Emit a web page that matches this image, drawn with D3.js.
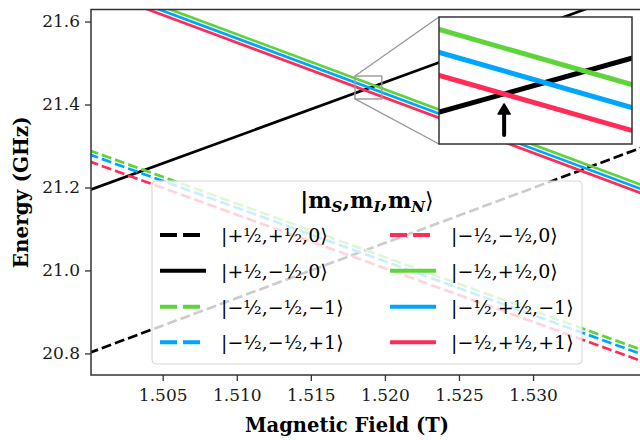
<!DOCTYPE html>
<meta charset="utf-8">
<title>Energy levels vs magnetic field</title>
<style>
*{
  margin: 0;
  padding: 0;
}
body{
  background: #fff;
  font-family: "DejaVu Serif", serif;
}
.tick text{
  font-family: "DejaVu Serif", serif;
  font-size: 17px;
  fill: #1a1a1a;
}
.axis path, .axis line{
  stroke: #333;
}
</style>
<body>
<script src="https://cdnjs.cloudflare.com/ajax/libs/d3/7.8.5/d3.min.js"></script>
<div id="chart"></div>
<script>

// field values at which each level is given (T)
var fieldEnds = [1.500, 1.540];

// |mS,mI,mN> states, in legend order
var states = ["|+½,+½,0⟩", "|+½,−½,0⟩", "|−½,−½,−1⟩", "|−½,−½,+1⟩",
              "|−½,−½,0⟩", "|−½,+½,0⟩", "|−½,+½,−1⟩", "|−½,+½,+1⟩"];

// energies (GHz) at fieldEnds[0] and fieldEnds[1]
var energyLow  = [20.8008, 21.1930, 21.2901, 21.2804, 21.2635, 21.7024, 21.6924, 21.6824];
var energyHigh = [21.3316, 21.7140, 20.7741, 20.7636, 20.7471, 21.1704, 21.1604, 21.1504];

var xTicks = [1.505, 1.510, 1.515, 1.520, 1.525, 1.530];
var yTicks = [20.8, 21.0, 21.2, 21.4, 21.6];

// zoomed window
var zoomField = [1.51798, 1.51979];
var zoomEnergy = [21.4133, 21.4687];

// styles
var lineColor = ["#000", "#000", "#5fd43a", "#00a5ff", "#ff2c57", "#5fd43a", "#00a5ff", "#ff2c57"];
var lineDashed = [true, false, true, true, true, false, false, false];

var width = 640, height = 440;
var m = {left: 91, right: 640, top: 9.5, bottom: 375};

var svg = d3.select("#chart").append("svg")
    .attr("width", width)
    .attr("height", height);

var x = d3.scaleLinear().domain([1.50016, 1.53722]).range([m.left, m.right]);
var y = d3.scaleLinear().domain([20.748, 21.629]).range([m.bottom, m.top]);

var levels = states.map(function(s, i){
  return {name: s, i: i, pts: [[fieldEnds[0], energyLow[i]], [fieldEnds[1], energyHigh[i]]]};
});

var defs = svg.append("defs");
defs.append("clipPath").attr("id", "mainClip")
  .append("rect").attr("x", m.left).attr("y", m.top).attr("width", m.right - m.left).attr("height", m.bottom - m.top);

var line = d3.line().x(function(d){ return x(d[0]); }).y(function(d){ return y(d[1]); });

var plot = svg.append("g").attr("clip-path", "url(#mainClip)");
plot.selectAll(".level")
  .data(levels)
  .enter().append("path")
  .attr("class", "level")
  .attr("d", function(d){ return line(d.pts); })
  .attr("fill", "none")
  .attr("stroke", function(d){ return lineColor[d.i]; })
  .attr("stroke-width", 2.7)
  .attr("stroke-dasharray", function(d){ return lineDashed[d.i] ? "10,4" : null; });

/* axes */
svg.append("g").attr("class", "axis")
  .attr("transform", "translate(0," + m.bottom + ")")
  .call(d3.axisBottom(x).tickValues(xTicks).tickFormat(d3.format(".3f")).tickSize(6).tickPadding(8));
svg.append("g").attr("class", "axis")
  .attr("transform", "translate(" + m.left + ",0)")
  .call(d3.axisLeft(y).tickValues(yTicks).tickFormat(d3.format(".1f")).tickSize(6).tickPadding(5));
svg.selectAll(".axis .domain").remove();
svg.selectAll(".axis line").attr("stroke-width", 1.3);

// spines
svg.append("path")
  .attr("d", "M" + (m.right + 2) + "," + m.top + "H" + m.left + "V" + m.bottom + "H" + (m.right + 2))
  .attr("fill", "none").attr("stroke", "#333").attr("stroke-width", 1.5);

svg.append("text")
  .attr("x", 347).attr("y", 432)
  .attr("text-anchor", "middle")
  .style("font-weight", "bold").style("font-size", "19.5px")
  .text("Magnetic Field (T)");

svg.append("text")
  .attr("transform", "translate(28," + (m.top + m.bottom) / 2 + ") rotate(-90)")
  .attr("text-anchor", "middle")
  .style("font-weight", "bold").style("font-size", "20px")
  .text("Energy (GHz)");

/* legend */
var lg = svg.append("g");
lg.append("rect")
  .attr("x", 152).attr("y", 181).attr("width", 430).attr("height", 183)
  .attr("rx", 4)
  .attr("fill", "#fff").attr("fill-opacity", 0.8)
  .attr("stroke", "#d6d6d6").attr("stroke-width", 1);

var title = lg.append("text")
  .attr("x", 367).attr("y", 208)
  .attr("text-anchor", "middle")
  .style("font-weight", "bold").style("font-size", "22px");
title.append("tspan").text("|m");
title.append("tspan").attr("dy", 4).style("font-size", "15px").style("font-style", "italic").text("S");
title.append("tspan").attr("dy", -4).text(",m");
title.append("tspan").attr("dy", 4).style("font-size", "15px").style("font-style", "italic").text("I");
title.append("tspan").attr("dy", -4).text(",m");
title.append("tspan").attr("dy", 4).style("font-size", "15px").style("font-style", "italic").text("N");
title.append("tspan").attr("dy", -4).style("font-weight", "normal").text("⟩");

var colX = [160, 390], rowY = [235, 270.7, 306.7, 342.3];
var entries = lg.selectAll(".entry")
  .data(levels)
  .enter().append("g")
  .attr("class", "entry")
  .attr("transform", function(d){
    return "translate(" + colX[Math.floor(d.i / 4)] + "," + rowY[d.i % 4] + ")";
  });
entries.append("line")
  .attr("x1", 0).attr("x2", 46)
  .attr("stroke", function(d){ return lineColor[d.i]; })
  .attr("stroke-width", 4)
  .attr("stroke-dasharray", function(d){ return lineDashed[d.i] ? "17,6" : null; });
entries.append("text")
  .attr("x", 61).attr("y", 7)
  .style("font-size", "19px")
  .text(function(d){ return d.name; });

/* zoom window marker */
var zx0 = x(zoomField[0]), zx1 = x(zoomField[1]), zy0 = y(zoomEnergy[1]), zy1 = y(zoomEnergy[0]);
var ins = {x0: 439, x1: 632, y0: 17, y1: 144};
svg.append("rect")
  .attr("x", zx0).attr("y", zy0).attr("width", zx1 - zx0).attr("height", zy1 - zy0)
  .attr("fill", "none").attr("stroke", "#999").attr("stroke-width", 1.4);
svg.append("line").attr("x1", zx0).attr("y1", zy0).attr("x2", ins.x0).attr("y2", ins.y0)
  .attr("stroke", "#999").attr("stroke-width", 1.4);
svg.append("line").attr("x1", zx0).attr("y1", zy1).attr("x2", ins.x0).attr("y2", ins.y1)
  .attr("stroke", "#999").attr("stroke-width", 1.4);

/* inset */
var xi = d3.scaleLinear().domain(zoomField).range([ins.x0, ins.x1]);
var yi = d3.scaleLinear().domain(zoomEnergy).range([ins.y1, ins.y0]);
defs.append("clipPath").attr("id", "insetClip")
  .append("rect").attr("x", ins.x0).attr("y", ins.y0).attr("width", ins.x1 - ins.x0).attr("height", ins.y1 - ins.y0);

var inset = svg.append("g");
inset.append("rect")
  .attr("x", ins.x0).attr("y", ins.y0).attr("width", ins.x1 - ins.x0).attr("height", ins.y1 - ins.y0)
  .attr("fill", "#fff");
var lineI = d3.line().x(function(d){ return xi(d[0]); }).y(function(d){ return yi(d[1]); });
inset.append("g").attr("clip-path", "url(#insetClip)")
  .selectAll("path")
  .data(levels.filter(function(d){ return !lineDashed[d.i]; }))
  .enter().append("path")
  .attr("d", function(d){ return lineI(d.pts); })
  .attr("fill", "none")
  .attr("stroke", function(d){ return lineColor[d.i]; })
  .attr("stroke-width", 5);

// crossing of |+½,−½,0> and |−½,+½,+1>
var a = levels[1], b = levels[7];
function slope(d){ return (d.pts[1][1] - d.pts[0][1]) / (d.pts[1][0] - d.pts[0][0]); }
var bx = fieldEnds[0] + (b.pts[0][1] - a.pts[0][1]) / (slope(a) - slope(b));
var by = a.pts[0][1] + slope(a) * (bx - fieldEnds[0]);
var ax = xi(bx), ay = yi(by) + 10;
inset.append("line")
  .attr("x1", ax).attr("x2", ax).attr("y1", ins.y1 - 9).attr("y2", ay + 7)
  .attr("stroke", "#000").attr("stroke-width", 4).attr("stroke-linecap", "round");
inset.append("path")
  .attr("d", "M" + ax + "," + ay + "L" + (ax - 6) + "," + (ay + 10) + "L" + (ax + 6) + "," + (ay + 10) + "Z")
  .attr("fill", "#000").attr("stroke", "#000").attr("stroke-width", 1.5).attr("stroke-linejoin", "round");

inset.append("rect")
  .attr("x", ins.x0).attr("y", ins.y0).attr("width", ins.x1 - ins.x0).attr("height", ins.y1 - ins.y0)
  .attr("fill", "none").attr("stroke", "#333").attr("stroke-width", 1.5);

</script>
</body>
